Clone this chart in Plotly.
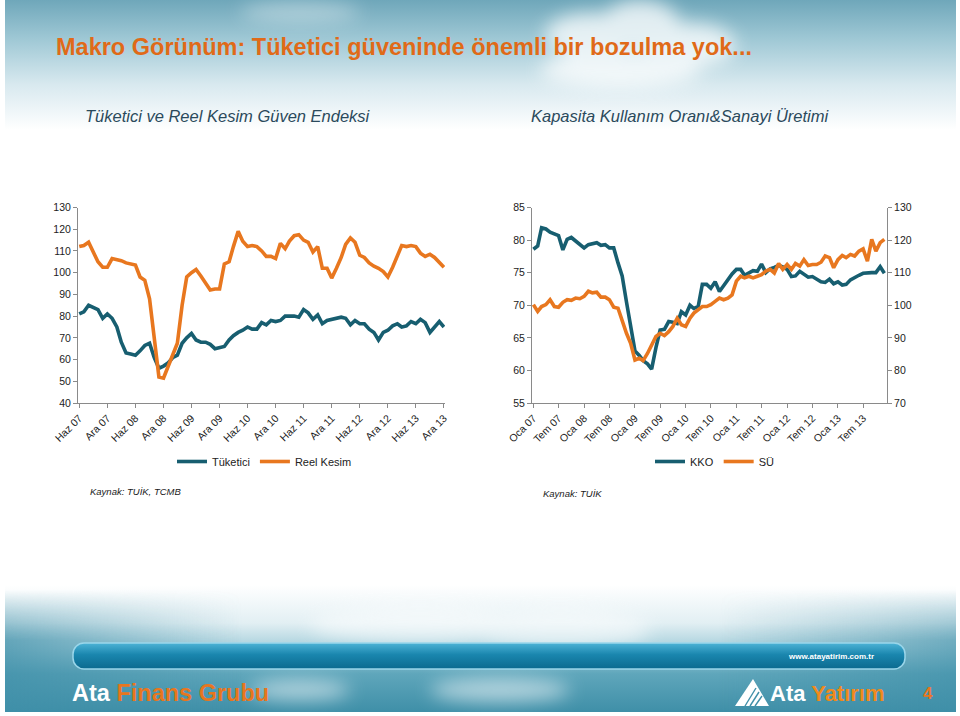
import base64
import pandas as pd
import plotly.graph_objects as go

# ---------------- data ----------------
left_months = pd.date_range("2007-06-01", "2013-12-01", freq="MS")
tuketici = [81, 82, 85, 84, 83, 79, 81,
            79, 75, 68, 63, 62.5, 62, 64, 66.5, 67.5, 61, 56, 57,
            58.5, 61, 62, 67.5, 70, 72, 69, 68, 68, 67, 65, 65.5,
            66, 69, 71, 72.5, 73.5, 75, 74, 74, 77, 76, 78, 77.5,
            78, 80, 80, 80, 79.5, 83, 81.5, 78.5, 80.5, 76.5, 78, 78.5,
            79, 79.5, 79, 76, 78, 76.5, 76.5, 74, 72.5, 69, 72.5, 73.5,
            75.5, 76.5, 75, 75.5, 77.5, 76.5, 78.5, 77, 72.5, 75, 77.5, 75]
reel_kesim = [112, 112.5, 114, 109, 105, 102.5, 102.5,
              106.5, 106, 105.5, 104.5, 104, 103.5, 98, 96.5, 88, 70, 52, 51.5,
              57, 63, 67.5, 85, 98, 100, 101.5, 98.5, 95.5, 92, 92.5, 92.5,
              104, 105, 112, 119, 114.5, 112, 112.5, 112, 110, 107.5, 107.5, 106.5,
              113.5, 111, 114.5, 117, 117.5, 115, 114, 109.5, 112, 102, 102, 97.5,
              102, 107, 113, 116, 114, 108, 107, 104.5, 103, 102, 100.5, 98,
              102.5, 107.5, 112.5, 112, 112.5, 112, 109, 107.5, 108.5, 107, 104.5, 102.5]
left_tickvals = ["2007-06-01", "2007-12-01", "2008-06-01", "2008-12-01", "2009-06-01",
                 "2009-12-01", "2010-06-01", "2010-12-01", "2011-06-01", "2011-12-01",
                 "2012-06-01", "2012-12-01", "2013-06-01", "2013-12-01"]
left_ticktext = ["Haz 07", "Ara 07", "Haz 08", "Ara 08", "Haz 09", "Ara 09", "Haz 10",
                 "Ara 10", "Haz 11", "Ara 11", "Haz 12", "Ara 12", "Haz 13", "Ara 13"]

right_months = pd.date_range("2007-01-01", "2013-12-01", freq="MS")
kko = [78.6, 79.1, 81.9, 81.7, 81.2, 80.9, 80.7, 78.5, 80.1, 80.4, 79.9, 79.3,
       78.8, 79.3, 79.4, 79.6, 79.2, 79.3, 78.8, 78.8, 76.5, 74.5, 70.5, 66.5,
       63, 62.3, 61.5, 61, 60.2, 63.5, 66.2, 66.3, 67.5, 67.4, 67.2, 69,
       68.5, 70, 69.5, 69.8, 73.2, 73.2, 72.6, 73.6, 72.1, 73, 74, 74.8,
       75.5, 75.5, 74.6, 74.9, 75.3, 75.2, 76.3, 75.0, 75.6, 75.8, 76.1, 75.9,
       75.5, 74.4, 74.5, 75.2, 74.8, 74.3, 74.4, 74, 73.6, 73.5, 74, 73.3,
       73.6, 73.1, 73.2, 73.9, 74.3, 74.6, 74.9, 75, 75, 75, 75.9, 74.9]
su = [100.2, 98.1, 99.6, 100.2, 101.7, 99.6, 99.4, 100.9, 101.7, 101.5, 102.2, 102,
      102.7, 104.3, 103.8, 104, 102.5, 102.5, 101.7, 99.4, 99.1, 95, 91.4, 88.3,
      83.2, 83.7, 83, 85.2, 87.8, 90.4, 91.4, 90.7, 91.9, 93.5, 96, 94,
      93.5, 96, 97.6, 98.6, 99.6, 99.6, 100.2, 101.2, 102.2, 101.7, 102.2, 103.2,
      107.4, 108.9, 108.4, 108.9, 108.4, 108.9, 109.4, 110.5, 111, 109.9, 112.8, 111,
      112.5, 111, 112.8, 112, 114, 112.2, 112.5, 112.5, 113.2, 115.1, 114.6, 111.5,
      114, 115.3, 114.6, 115.6, 115.1, 116.6, 117.3, 113.5, 120.2, 116.6, 119.2, 120.2]
right_tickvals = ["2007-01-01", "2007-07-01", "2008-01-01", "2008-07-01", "2009-01-01",
                  "2009-07-01", "2010-01-01", "2010-07-01", "2011-01-01", "2011-07-01",
                  "2012-01-01", "2012-07-01", "2013-01-01", "2013-07-01"]
right_ticktext = ["Oca 07", "Tem 07", "Oca 08", "Tem 08", "Oca 09", "Tem 09", "Oca 10",
                  "Tem 10", "Oca 11", "Tem 11", "Oca 12", "Tem 12", "Oca 13", "Tem 13"]

TEAL = "#175e70"
ORANGE = "#e8771f"
AXIS = "#8a8a8a"
W, H = 960, 716


def px(x):
    return x / W


def py(y):
    return 1 - y / H


# ---------------- background (slide decoration) ----------------
svg = f"""<svg xmlns='http://www.w3.org/2000/svg' width='{W}' height='{H}' viewBox='0 0 {W} {H}' preserveAspectRatio='none'>
<defs>
<linearGradient id='h' x1='0' y1='0' x2='0' y2='1'>
<stop offset='0' stop-color='#6fa7ba'/>
<stop offset='0.3' stop-color='#9fc8d5'/>
<stop offset='0.65' stop-color='#d8e9ef'/>
<stop offset='1' stop-color='#ffffff'/>
</linearGradient>
<linearGradient id='f' x1='0' y1='0' x2='0' y2='1'>
<stop offset='0' stop-color='#ffffff'/>
<stop offset='0.3' stop-color='#e2eff3'/>
<stop offset='0.5' stop-color='#a6cfdb'/>
<stop offset='0.7' stop-color='#5fa6bb'/>
<stop offset='1' stop-color='#3f8fa8'/>
</linearGradient>
<linearGradient id='fl' x1='0' y1='0' x2='1' y2='0'>
<stop offset='0' stop-color='#3f8fa8' stop-opacity='0.7'/>
<stop offset='0.25' stop-color='#3f8fa8' stop-opacity='0'/>
<stop offset='0.75' stop-color='#3f8fa8' stop-opacity='0'/>
<stop offset='1' stop-color='#3f8fa8' stop-opacity='0.6'/>
</linearGradient>
<linearGradient id='flv' x1='0' y1='0' x2='0' y2='1'>
<stop offset='0' stop-color='#ffffff' stop-opacity='0'/>
<stop offset='0.4' stop-color='#ffffff' stop-opacity='1'/>
</linearGradient>
<mask id='m'><rect x='0' y='590' width='{W}' height='126' fill='url(#flv)'/></mask>
<linearGradient id='bar' x1='0' y1='0' x2='0' y2='1'>
<stop offset='0' stop-color='#4db3d6'/>
<stop offset='0.45' stop-color='#1a86ae'/>
<stop offset='1' stop-color='#0b6a8f'/>
</linearGradient>
<filter id='b' x='-50%' y='-50%' width='200%' height='200%'><feGaussianBlur stdDeviation='9'/></filter>
</defs>
<rect x='0' y='0' width='{W}' height='{H}' fill='#ffffff'/>
<rect x='5' y='0' width='951' height='130' fill='url(#h)'/>
<g filter='url(#b)' fill='#ffffff' opacity='0.75'>
<ellipse cx='590' cy='35' rx='45' ry='22'/>
<ellipse cx='640' cy='25' rx='40' ry='25'/>
<ellipse cx='690' cy='45' rx='45' ry='22'/>
<ellipse cx='620' cy='70' rx='80' ry='18'/>
<ellipse cx='300' cy='12' rx='60' ry='10' opacity='0.5'/>
</g>
<rect x='5' y='585' width='951' height='127' fill='url(#f)'/>
<rect x='5' y='590' width='951' height='122' fill='url(#fl)' mask='url(#m)'/>
<g filter='url(#b)' fill='#ffffff' opacity='0.55'>
<ellipse cx='420' cy='625' rx='110' ry='18'/>
<ellipse cx='560' cy='630' rx='90' ry='20'/>
<ellipse cx='300' cy='690' rx='50' ry='10'/>
<ellipse cx='500' cy='690' rx='70' ry='12'/>
</g>
<rect x='73' y='643' width='832' height='26' rx='11' fill='url(#bar)' stroke='#9ad6ea' stroke-width='1.5'/>
<polygon points='735,706 753,679 769,706' fill='#ffffff'/>
<g stroke='#3f8fa8' stroke-width='1.4'>
<line x1='745' y1='706' x2='756' y2='688'/>
<line x1='750' y1='706' x2='759' y2='692'/>
<line x1='755' y1='706' x2='762' y2='696'/>
</g>
</svg>"""
svg_uri = "data:image/svg+xml;base64," + base64.b64encode(svg.encode("utf-8")).decode("ascii")

# ---------------- figure ----------------
fig = go.Figure()

fig.add_trace(go.Scatter(x=left_months, y=tuketici, name="Tüketici", mode="lines",
                         line=dict(color=TEAL, width=3.6), xaxis="x", yaxis="y",
                         legend="legend"))
fig.add_trace(go.Scatter(x=left_months, y=reel_kesim, name="Reel Kesim", mode="lines",
                         line=dict(color=ORANGE, width=3.6), xaxis="x", yaxis="y",
                         legend="legend"))
fig.add_trace(go.Scatter(x=right_months, y=kko, name="KKO", mode="lines",
                         line=dict(color=TEAL, width=3.6), xaxis="x2", yaxis="y2",
                         legend="legend2"))
fig.add_trace(go.Scatter(x=right_months, y=su, name="SÜ", mode="lines",
                         line=dict(color=ORANGE, width=3.6), xaxis="x2", yaxis="y3",
                         legend="legend2"))

tickfont = dict(family="Liberation Sans, Arial, sans-serif", size=10.5, color="#222222")
common_axis = dict(showgrid=False, zeroline=False, showline=True, linecolor=AXIS, linewidth=1,
                   ticks="outside", ticklen=4, tickcolor=AXIS, tickfont=tickfont,
                   automargin=False)

plot_y = [py(403), py(207.5)]

fig.update_layout(
    width=W, height=H, autosize=False,
    margin=dict(l=0, r=0, t=0, b=0, pad=0, autoexpand=False),
    paper_bgcolor="white", plot_bgcolor="rgba(0,0,0,0)",
    font=dict(family="Liberation Sans, Arial, sans-serif", size=11, color="#222222"),
    xaxis=dict(domain=[px(78), px(445)], anchor="y", type="date",
               range=["2007-05-24", "2013-12-08"],
               tickmode="array", tickvals=left_tickvals, ticktext=left_ticktext,
               tickangle=-45, **common_axis),
    yaxis=dict(domain=plot_y, anchor="x", range=[40, 130], dtick=10, tick0=40, **common_axis),
    xaxis2=dict(domain=[px(532), px(887)], anchor="y2", type="date",
                range=["2006-12-22", "2013-12-20"],
                tickmode="array", tickvals=right_tickvals, ticktext=right_ticktext,
                tickangle=-45, **common_axis),
    yaxis2=dict(domain=plot_y, anchor="x2", range=[55, 85], dtick=5, tick0=55, **common_axis),
    yaxis3=dict(anchor="x2", overlaying="y2", side="right", range=[70, 130], dtick=10,
                tick0=70, **common_axis),
    legend=dict(orientation="h", x=px(172), y=py(447), xanchor="left", yanchor="top",
                bgcolor="rgba(0,0,0,0)", font=dict(size=11), itemwidth=30,
                traceorder="normal"),
    legend2=dict(orientation="h", x=px(650), y=py(447), xanchor="left", yanchor="top",
                 bgcolor="rgba(0,0,0,0)", font=dict(size=11), itemwidth=30,
                 traceorder="normal"),
    images=[dict(source=svg_uri, xref="paper", yref="paper", x=0, y=1, sizex=1, sizey=1,
                 sizing="stretch", layer="below", xanchor="left", yanchor="top")],
)

narrow = "Liberation Sans Narrow, Arial Narrow, Liberation Sans, Arial, sans-serif"
ann = [
    dict(text="<b>Makro Görünüm: Tüketici güveninde önemli bir bozulma yok...</b>",
         x=px(54), y=py(47), xanchor="left", yanchor="middle",
         font=dict(family=narrow, size=23.5, color="#e06a18")),
    dict(text="<i>Tüketici ve Reel Kesim Güven Endeksi</i>",
         x=px(228), y=py(116), xanchor="center", yanchor="middle",
         font=dict(family=narrow, size=16.5, color="#2b4a5c")),
    dict(text="<i>Kapasita Kullanım Oranı&Sanayi Üretimi</i>",
         x=px(680), y=py(116), xanchor="center", yanchor="middle",
         font=dict(family=narrow, size=16.5, color="#2b4a5c")),
    dict(text="<i>Kaynak: TUİK, TCMB</i>", x=px(88), y=py(491), xanchor="left",
         yanchor="middle", font=dict(size=9.5, color="#222222")),
    dict(text="<i>Kaynak: TUİK</i>", x=px(541), y=py(493), xanchor="left",
         yanchor="middle", font=dict(size=9.5, color="#222222")),
    dict(text="<b>Ata <span style='color:#e8761e'>Finans Grubu</span></b>",
         x=px(70), y=py(693), xanchor="left", yanchor="middle",
         font=dict(family="Liberation Sans, Arial, sans-serif", size=23.5, color="#ffffff")),
    dict(text="<b>www.atayatirim.com.tr</b>", x=px(876), y=py(656), xanchor="right",
         yanchor="middle", font=dict(size=8, color="#ffffff")),
    dict(text="<b>Ata <span style='color:#f08a1c'>Yatırım</span></b>",
         x=px(768), y=py(693), xanchor="left", yanchor="middle",
         font=dict(family=narrow, size=22, color="#ffffff")),
    dict(text="<b>4</b>", x=px(928), y=py(693), xanchor="center", yanchor="middle",
         font=dict(size=17, color="#e8761e")),
]
for a in ann:
    a.update(xref="paper", yref="paper", showarrow=False)
fig.update_layout(annotations=ann)

fig.write_html("out.html", config={"responsive": False, "displayModeBar": False},
               post_script="document.body.style.margin='0';document.body.style.padding='0';"
                           "document.body.style.overflow='hidden';")
